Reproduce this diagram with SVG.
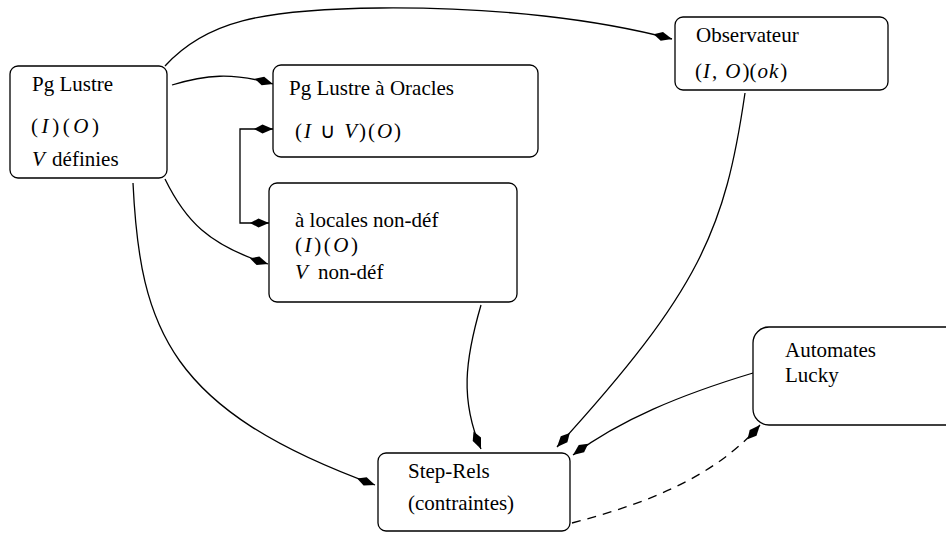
<svg xmlns="http://www.w3.org/2000/svg" width="946" height="533" viewBox="0 0 946 533">
  <style>
    .box { fill: #ffffff; stroke: #000000; stroke-width: 1.3; }
    .edge { fill: none; stroke: #000000; stroke-width: 1.3; }
    .dash { stroke-dasharray: 9 7; }
  </style>
  <defs>
    <!-- elongated filled diamond used as arrow head -->
    <marker id="diamond" markerUnits="userSpaceOnUse" markerWidth="22" markerHeight="12" refX="19" refY="6" orient="auto-start-reverse" overflow="visible">
      <path d="M0,6 L8.5,1.5 L19,6 L8.5,10.5 Z" fill="#000000"/>
    </marker>
  </defs>

  <rect width="946" height="533" fill="#ffffff"/>

  <!-- connectors -->
  <g id="connectors">
    <path class="edge" d="M165,66 C205,22 260,9 380,8 C500,7 600,20 672,39" marker-end="url(#diamond)"/>
    <path class="edge" d="M172,85 C205,75 232,72 273,84" marker-end="url(#diamond)"/>
    <path class="edge" d="M273,129 H240 V223 H269" marker-start="url(#diamond)" marker-end="url(#diamond)"/>
    <path class="edge" d="M165,179 C185,220 208,245 268,264" marker-end="url(#diamond)"/>
    <path class="edge" d="M133,183 C140,330 170,410 375,485" marker-end="url(#diamond)"/>
    <path class="edge" d="M481,305 C465,360 460,400 481,449" marker-end="url(#diamond)"/>
    <path class="edge" d="M745,93 C725,230 700,290 557,447" marker-end="url(#diamond)"/>
    <path class="edge" d="M753,373 C680,395 620,420 573,455" marker-end="url(#diamond)"/>
    <path class="edge dash" d="M572,523 C640,505 712,480 760,425" marker-end="url(#diamond)"/>
  </g>

  <!-- nodes -->
  <g font-family="'Liberation Serif', 'Times New Roman', Times, serif" font-size="21" fill="#000000">
    <g id="pg-lustre">
      <rect class="box" x="10" y="66" width="157" height="112" rx="8"/>
      <text x="32" y="91">Pg Lustre</text>
      <text x="31" y="133" textLength="68" lengthAdjust="spacing">(<tspan font-style="italic">I</tspan>)(<tspan font-style="italic">O</tspan>)</text>
      <text x="32" y="166"><tspan font-style="italic">V</tspan><tspan dx="2"> définies</tspan></text>
    </g>

    <g id="pg-oracles">
      <rect class="box" x="273" y="65" width="265" height="92" rx="8"/>
      <text x="289" y="95">Pg Lustre à Oracles</text>
      <text x="295" y="138" textLength="106" lengthAdjust="spacing">(<tspan font-style="italic">I</tspan> ∪ <tspan font-style="italic">V</tspan>)(<tspan font-style="italic">O</tspan>)</text>
    </g>

    <g id="locales">
      <rect class="box" x="269" y="183" width="248" height="119" rx="8"/>
      <text x="295" y="227">à locales non-déf</text>
      <text x="295" y="252" textLength="63" lengthAdjust="spacing">(<tspan font-style="italic">I</tspan>)(<tspan font-style="italic">O</tspan>)</text>
      <text x="295" y="279"><tspan font-style="italic">V</tspan><tspan dx="5"> non-déf</tspan></text>
    </g>

    <g id="observateur">
      <rect class="box" x="675" y="17" width="213" height="73" rx="8"/>
      <text x="696" y="42">Observateur</text>
      <text x="695" y="78">(<tspan font-style="italic" dx="1">I</tspan><tspan dx="2">,</tspan><tspan dx="8" font-style="italic">O</tspan><tspan dx="2">)(</tspan><tspan font-style="italic" dx="1">o</tspan><tspan font-style="italic" dx="1">k</tspan><tspan dx="2">)</tspan></text>
    </g>

    <g id="automates">
      <rect class="box" x="753" y="327" width="210" height="98" rx="16"/>
      <text x="785" y="357">Automates</text>
      <text x="785" y="382">Lucky</text>
    </g>

    <g id="step-rels">
      <rect class="box" x="378" y="453" width="192" height="78" rx="8"/>
      <text x="408" y="478">Step-Rels</text>
      <text x="408" y="510">(contraintes)</text>
    </g>
  </g>
</svg>
